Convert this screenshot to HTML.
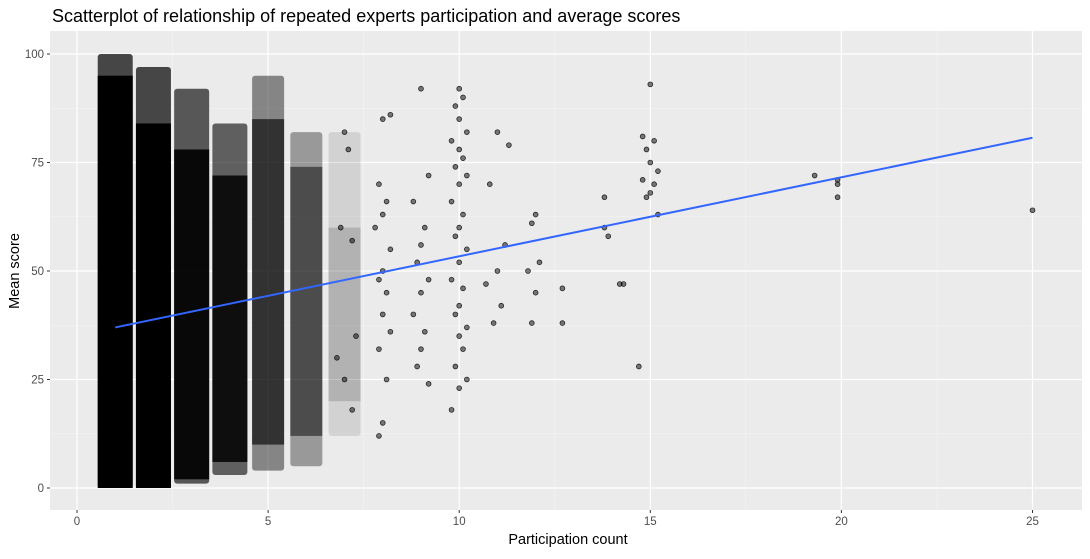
<!DOCTYPE html>
<html><head><meta charset="utf-8"><style>
body{margin:0;background:#fff;font-family:"Liberation Sans",Arial,sans-serif}
</style></head><body>
<svg id="chart" width="1090" height="554" xmlns="http://www.w3.org/2000/svg">
<text x="52" y="22" font-size="18" fill="#000">Scatterplot of relationship of repeated experts participation and average scores</text>
<rect x="50" y="31" width="1032" height="479" fill="#ebebeb"/>
<g id="grid"></g><g id="bands"></g><g id="pts"></g><g id="trend"></g><g id="axes"></g>
<text x="568" y="544" font-size="14.5" text-anchor="middle">Participation count</text>
<text transform="translate(19,271) rotate(-90)" font-size="14.5" text-anchor="middle">Mean score</text>
</svg>
<script>
const xTicks=[0,5,10,15,20,25];
const yTicks=[0,25,50,75,100];
// dense cluster bands: participation value, low score, high score, opacity
const bandX=[1,2,3,4,5,6,7];
const bandLo=[0,0,1,3,4,5,12];
const bandHi=[100,97,92,84,95,82,82];
const bandCore=[[0,95],[0,84],[2,78],[6,72],[10,85],[12,74],[20,60]];
const bandAlpha=[1,1,0.9,0.85,0.62,0.5,0.15];
// sparse points
const ptX=[7,7.1,6.9,7.2,7.3,6.8,7,7.2,
8,8.2,7.9,8.1,8,7.8,8.2,8,7.9,8.1,8,8.2,7.9,8.1,8,7.9,
9,9.2,8.8,9.1,9,8.9,9.2,9,8.8,9.1,9,8.9,9.2,
10,10.1,9.9,10,10.2,9.8,10,10.1,9.9,10.2,10,9.8,10.1,10,9.9,10.2,10,9.8,10.1,10,9.9,10.2,10,10.1,9.9,10.2,10,9.8,
11,11.3,10.8,11.2,11,10.7,11.1,10.9,
12,11.9,12.1,11.8,12,11.9,12.7,12.7,
13.8,13.8,13.9,14.2,14.3,14.7,15,14.8,15.1,14.9,15,15.2,14.8,15.1,15,14.9,15.2,
19.3,19.9,19.9,19.9,25];
const ptY=[82,78,60,57,35,30,25,18,
85,86,70,66,63,60,55,50,48,45,40,36,32,25,15,12,
92,72,66,60,56,52,48,45,40,36,32,28,24,
92,90,88,85,82,80,78,76,74,72,70,66,63,60,58,55,52,48,46,42,40,37,35,32,28,25,23,18,
82,79,70,56,50,47,42,38,
63,61,52,50,45,38,46,38,
67,60,58,47,47,28,93,81,80,78,75,73,71,70,68,67,63,
72,71,70,67,64];
const trendX=[1,25];
const trendY=[37,80.7];

const sx=v=>77+v*38.22, sy=v=>488-v*4.34;
const NS="http://www.w3.org/2000/svg";
function mk(t,p,a){const e=document.createElementNS(NS,t);for(const k in a)e.setAttribute(k,a[k]);p.appendChild(e);return e;}
const grid=document.getElementById('grid');
for(let v=2.5;v<=25;v+=5){const l=mk('line',grid,{x1:sx(v),x2:sx(v),y1:31,y2:510,stroke:'#f5f5f5','stroke-width':0.6});

}
for(let v=12.5;v<100;v+=25){const l=mk('line',grid,{x1:50,x2:1082,y1:sy(v),y2:sy(v),stroke:'#f5f5f5','stroke-width':0.6});

}
const axes=document.getElementById('axes');
xTicks.forEach(v=>{const l=mk('line',grid,{x1:sx(v),x2:sx(v),y1:31,y2:510,stroke:'#fff','stroke-width':1.2});


mk('line',axes,{x1:sx(v),x2:sx(v),y1:510,y2:513,stroke:'#333'});
const t=mk('text',axes,{x:sx(v),y:525,'font-size':11.5,fill:'#4d4d4d','text-anchor':'middle'});t.textContent=v;

});
yTicks.forEach(v=>{const l=mk('line',grid,{x1:50,x2:1082,y1:sy(v),y2:sy(v),stroke:'#fff','stroke-width':1.2});


mk('line',axes,{x1:47,x2:50,y1:sy(v),y2:sy(v),stroke:'#333'});
const t=mk('text',axes,{x:44,y:sy(v)+4,'font-size':11.5,fill:'#4d4d4d','text-anchor':'end'});t.textContent=v;

});
const bands=document.getElementById('bands');
bandX.forEach((x,i)=>{const w=x<=4?35:32;
const r=mk('rect',bands,{x:sx(x)-w/2,y:sy(bandHi[i]),width:w,height:sy(bandLo[i])-sy(bandHi[i]),fill:'#000',opacity:bandAlpha[i]*0.7,rx:3});


const c=bandCore[i];
const r2=mk('rect',bands,{x:sx(x)-w/2,y:sy(c[1]),width:w,height:sy(c[0])-sy(c[1]),fill:'#000',opacity:bandAlpha[i]});

});
const pts=document.getElementById('pts');
ptX.forEach((x,i)=>{const c=mk('circle',pts,{cx:sx(x),cy:sy(ptY[i]),r:2.4,fill:'rgba(0,0,0,0.5)',stroke:'rgba(0,0,0,0.8)','stroke-width':0.8});

});
const tl=mk('line',document.getElementById('trend'),{x1:sx(trendX[0]),y1:sy(trendY[0]),x2:sx(trendX[1]),y2:sy(trendY[1]),stroke:'#3366ff','stroke-width':2});


</script>
</body></html>
